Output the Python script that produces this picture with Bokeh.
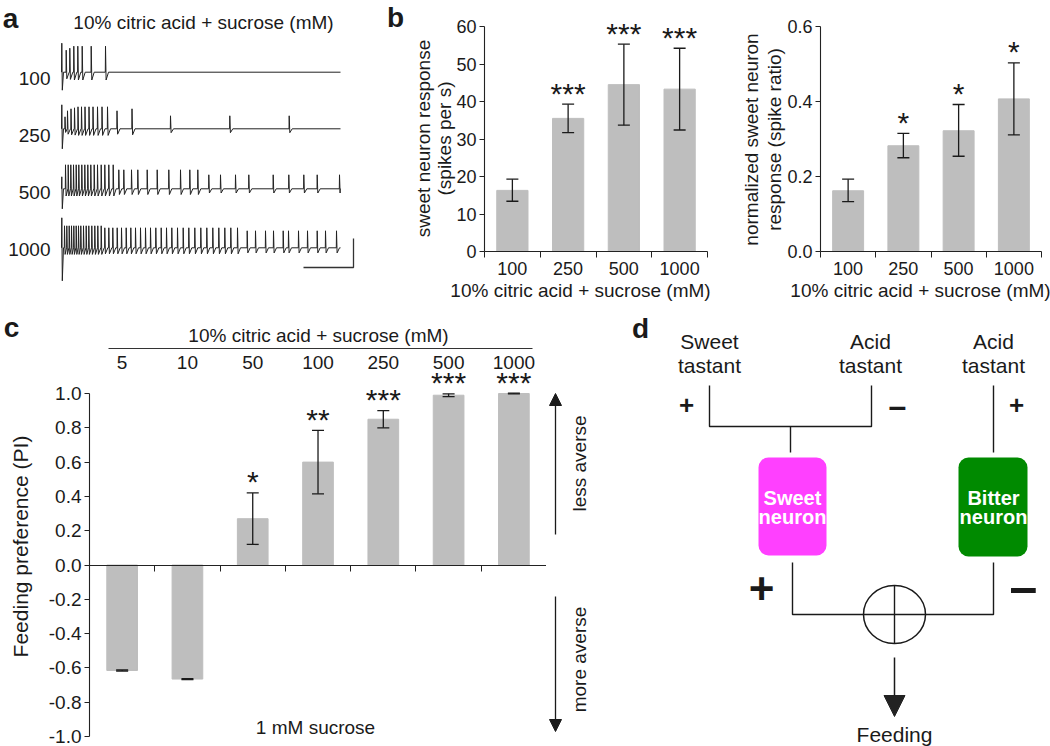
import numpy as np
from bokeh.plotting import figure
from bokeh.layouts import row, column
from bokeh.models import (Range1d, FixedTicker, Whisker, TeeHead, NormalHead, Arrow,
                          ColumnDataSource, PrintfTickFormatter)
from bokeh.core.properties import value
from bokeh.embed import file_html
from bokeh.resources import INLINE

FONT = "Liberation Sans"
BAR = "#bebebe"
INK = "#1a1a1a"

# ---------------- data ----------------
# panel a: spike times (ms) and spike heights read from the recordings
trace_labels = ["100", "250", "500", "1000"]
spikes_100 = [47, 83, 123, 163, 207, 297, 440]
amps_100 = [22, 24, 26, 26, 26, 26, 26]
spikes_250 = [35, 60, 95, 130, 165, 200, 235, 275, 315, 360, 405, 460, 555, 705, 1090, 1683, 2277]
amps_250 = [12, 18, 20, 21, 22, 22, 22, 22, 22, 22, 22, 22, 18, 20, 13, 13, 13]
spikes_500 = [40, 67, 93, 120, 147, 173, 203, 233, 263, 293, 327, 360, 397, 433, 473, 517,
              573, 623, 700, 763, 857, 957, 1073, 1190, 1283, 1363, 1473, 1590, 1740, 1873,
              2117, 2273, 2423, 2557, 2780]
amps_500 = [24] * 16 + [19] * 10 + [14] * 9
spikes_1000 = [30, 53, 77, 100, 123, 147, 170, 193, 220, 247, 273, 303, 333, 363, 397,
               433, 473, 513, 557, 600, 647, 693, 740, 790, 840, 890, 943, 997, 1050, 1103,
               1160, 1217, 1273, 1333, 1393, 1453, 1513, 1573, 1633, 1693, 1760,
               1857, 1940, 2040, 2120, 2217, 2270, 2370, 2460, 2557, 2640, 2750]
amps_1000 = [22] * 15 + [20] * 26 + [17] * 11
artifact_up = [29, 24, 12, 30]
artifact_down = [18, 20, 20, 33]
trace_end_ms = 2790
scalebar_ms = 500

# panel b
b_conc = ["100", "250", "500", "1000"]
b_rate = [16.3, 35.5, 44.5, 43.3]
b_rate_lo = [13.4, 31.7, 33.7, 32.4]
b_rate_hi = [19.3, 39.3, 55.3, 54.2]
b_rate_sig = ["", "***", "***", "***"]
b_ratio = [0.162, 0.282, 0.322, 0.407]
b_ratio_lo = [0.133, 0.250, 0.254, 0.311]
b_ratio_hi = [0.193, 0.315, 0.392, 0.503]
b_ratio_sig = ["", "*", "*", "*"]
b_rate_ticks = [0, 10, 20, 30, 40, 50, 60]
b_ratio_ticks = [0.0, 0.2, 0.4, 0.6]

# panel c
c_conc = ["5", "10", "50", "100", "250", "500", "1000"]
c_pi = [-0.615, -0.665, 0.27, 0.60, 0.85, 0.99, 1.0]
c_pi_lo = [-0.618, -0.668, 0.12, 0.415, 0.80, 0.982, 0.998]
c_pi_hi = [-0.612, -0.662, 0.42, 0.785, 0.90, 0.998, 1.002]
c_sig = ["", "", "*", "**", "***", "***", "***"]
c_ticks = [-1.0, -0.8, -0.6, -0.4, -0.2, 0.0, 0.2, 0.4, 0.6, 0.8, 1.0]

XLAB = "10% citric acid + sucrose (mM)"


class Panel:
    """A full-frame figure covering page box [X0,X1]x[Y0,Y1]; data x=(px-ax)/sx, y=(ay-py)/sy."""

    def __init__(self, X0, X1, Y0, Y1, ax, sx, ay, sy, axes=False):
        self.ax, self.sx, self.ay, self.sy = ax, sx, ay, sy
        kw = {} if axes else dict(x_axis_location=None, y_axis_location=None)
        self.p = figure(width=X1 - X0, height=Y1 - Y0,
                        x_range=Range1d((X0 - ax) / sx, (X1 - ax) / sx),
                        y_range=Range1d((ay - Y1) / sy, (ay - Y0) / sy),
                        min_border=0, toolbar_location=None, output_backend="svg", **kw)
        p = self.p
        p.xgrid.visible = False
        p.ygrid.visible = False
        p.outline_line_color = None
        p.background_fill_color = "white"
        p.border_fill_color = "white"

    def X(self, px):
        return (px - self.ax) / self.sx

    def Y(self, py):
        return (self.ay - py) / self.sy

    def txt(self, px, py, s, size, align="center", baseline="middle", bold=False,
            color=INK, angle=0):
        self.p.text(x=[self.X(px)], y=[self.Y(py)], text=[s], text_font=value(FONT),
                    text_font_size=size, text_align=align, text_baseline=baseline,
                    text_color=color, angle=angle,
                    text_font_style="bold" if bold else "normal")

    def pline(self, pxs, pys, width=1.4, color=INK):
        self.p.line([self.X(v) for v in pxs], [self.Y(v) for v in pys],
                    line_color=color, line_width=width)


def style_axes(p, size):
    for ax in (p.xaxis, p.yaxis):
        ax.major_label_text_font = FONT
        ax.major_label_text_font_size = size
        ax.major_label_text_color = INK
        ax.axis_line_color = "#222222"
        ax.major_tick_line_color = "#222222"
        ax.axis_line_width = 1.1
    p.yaxis.major_tick_out = 5
    p.yaxis.major_tick_in = 0
    p.yaxis.minor_tick_line_color = None
    p.xaxis.major_tick_out = 0
    p.xaxis.major_tick_in = 0
    p.xaxis.minor_tick_out = 6
    p.xaxis.minor_tick_in = 0
    p.xaxis.minor_tick_line_color = "#222222"
    p.xaxis.fixed_location = 0
    p.yaxis.fixed_location = 0


def errs(p, xs, lo, hi):
    src = ColumnDataSource(dict(base=xs, lower=lo, upper=hi))
    p.add_layout(Whisker(source=src, base="base", lower="lower", upper="upper",
                         dimension="height", line_color=INK, line_width=1.3, level="annotation",
                         upper_head=TeeHead(size=12, line_color=INK, line_width=1.3),
                         lower_head=TeeHead(size=12, line_color=INK, line_width=1.3)))


def stars(P, xs, tops, sig):
    lift = 11 / P.sy
    P.p.text(x=xs, y=[t + lift for t in tops], text=sig, text_font=value(FONT),
             text_font_size="30px", text_align="center", text_baseline="alphabetic",
             text_color=INK)


# ---------------- panel a ----------------
# x in ms (page px = 61 + ms/10), y in page px pointing down
A = Panel(0, 365, 0, 310, ax=61, sx=0.1, ay=0, sy=-1)
baselines = [71.7, 128.3, 188.3, 247.3]
label_y = [78, 135, 192, 249]
all_spikes = [spikes_100, spikes_250, spikes_500, spikes_1000]
all_amps = [amps_100, amps_250, amps_500, amps_1000]
for i in range(4):
    b = baselines[i]
    xs = [0, 3, 8, 20]
    ys = [b, b - artifact_up[i], b + artifact_down[i], b]
    sp = all_spikes[i]
    for k, (t, a) in enumerate(zip(sp, all_amps[i])):
        nxt = sp[k + 1] if k + 1 < len(sp) else trace_end_ms
        back = min(t + 30, nxt - 3)
        xs += [t - 2, t, t + 6, back]
        ys += [b, b - a, b + 0.3 * a, b]
    xs.append(trace_end_ms)
    ys.append(b)
    A.p.line(xs, ys, line_color="#222222", line_width=1)
    A.txt(50, label_y[i], trace_labels[i], "19px", align="right")
A.txt(203, 22, XLAB, "19px")
A.txt(10, 18, "a", "28px", bold=True)
sb_end = trace_end_ms + 130
A.p.line([sb_end - scalebar_ms, sb_end, sb_end], [267, 267, 238],
         line_color="#333333", line_width=1.3)

# ---------------- panel b ----------------
xc = [i + 0.5 for i in range(4)]


def bar_panel(P, ticks, bound, fmt, vals, lo, hi, sig):
    p = P.p
    style_axes(p, "18px")
    p.yaxis.ticker = FixedTicker(ticks=ticks)
    p.yaxis.bounds = (0, bound)
    p.yaxis.major_label_standoff = 3
    if fmt:
        p.yaxis.formatter = PrintfTickFormatter(format=fmt)
    p.xaxis.ticker = FixedTicker(ticks=xc, minor_ticks=[0, 1, 2, 3, 4])
    p.xaxis.bounds = (0, 4)
    p.xaxis.major_label_overrides = {x: l for x, l in zip(xc, b_conc)}
    p.xaxis.major_label_standoff = 4
    p.vbar(x=xc, top=vals, width=0.56, color=BAR)
    errs(p, xc, lo, hi)
    stars(P, xc, hi, sig)


B1 = Panel(365, 712, 0, 310, ax=484, sx=55.75, ay=251, sy=3.75, axes=True)
bar_panel(B1, b_rate_ticks, 60, None, b_rate, b_rate_lo, b_rate_hi, b_rate_sig)
B1.txt(423, 138, "sweet neuron response", "19px", angle=np.pi / 2)
B1.txt(444, 138, "(spikes per s)", "19px", angle=np.pi / 2)
B1.txt(580, 290, XLAB, "19px")
B1.txt(395, 17, "b", "28px", bold=True)

B2 = Panel(712, 1050, 0, 310, ax=820, sx=55.25, ay=251, sy=375, axes=True)
bar_panel(B2, b_ratio_ticks, 0.6, "%.1f", b_ratio, b_ratio_lo, b_ratio_hi, b_ratio_sig)
B2.txt(751, 139, "normalized sweet neuron", "19px", angle=np.pi / 2)
B2.txt(774, 139, "response (spike ratio)", "19px", angle=np.pi / 2)
B2.txt(920, 290, XLAB, "19px")

# ---------------- panel c ----------------
C = Panel(0, 546, 310, 746, ax=89, sx=65.29, ay=564.5, sy=171.5, axes=True)
cp = C.p
style_axes(cp, "19px")
cp.yaxis.ticker = FixedTicker(ticks=c_ticks)
cp.yaxis.bounds = (-1, 1)
cp.yaxis.formatter = PrintfTickFormatter(format="%.1f")
cp.yaxis.major_label_standoff = 3
cp.xaxis.ticker = FixedTicker(ticks=[], minor_ticks=list(range(8)))
cp.xaxis.bounds = (0, 7)
cp.xaxis.major_label_text_font_size = "0px"
cxc = [i + 0.5 for i in range(7)]
cp.vbar(x=cxc, top=c_pi, bottom=0, width=0.47, color=BAR)
errs(cp, cxc, c_pi_lo, c_pi_hi)
stars(C, cxc, c_pi_hi, c_sig)
cp.text(x=cxc, y=[C.Y(362)] * 7, text=c_conc, text_font=value(FONT), text_font_size="19px",
        text_align="center", text_baseline="middle", text_color=INK)
C.txt(318, 335, XLAB, "19px")
C.pline([108, 532], [348, 348], width=1, color="#333333")
C.txt(315, 727, "1 mM sucrose", "19px")
C.txt(20, 546, "Feeding preference (PI)", "21px", angle=np.pi / 2)
C.txt(11, 327, "c", "28px", bold=True)

# ---------------- panel d (page px coordinates, y down) ----------------
D = Panel(546, 1050, 310, 746, ax=0, sx=1, ay=0, sy=-1)
dp = D.p
for y0, y1 in [(534, 393), (596, 731)]:
    dp.add_layout(Arrow(x_start=555, y_start=y0, x_end=555, y_end=y1,
                        line_color=INK, line_width=1.3,
                        end=NormalHead(size=12, fill_color=INK, line_color=INK)))
D.txt(579, 463, "less averse", "19px", angle=np.pi / 2)
D.txt(579, 659, "more averse", "19px", angle=np.pi / 2)
D.txt(640, 328, "d", "28px", bold=True)
for x0, l1 in [(709, "Sweet"), (870, "Acid"), (993, "Acid")]:
    D.txt(x0, 341, l1, "21px")
    D.txt(x0, 365, "tastant", "21px")
D.txt(686, 404, "+", "26px", bold=True)
D.txt(897, 405, "\u2013", "32px", bold=True)
D.txt(1016, 404, "+", "26px", bold=True)
D.pline([709, 709, 871, 871], [385, 426, 426, 385])
D.pline([790, 790], [426, 452])
D.pline([993, 993], [385, 452])
qk = dict(left=[758, 958], right=[826, 1027], top=[457, 457], bottom=[555, 556],
          fill_color=["#ff40ff", "#008a00"], line_color=None)
try:
    dp.quad(border_radius=10, **qk)
except Exception:
    dp.quad(**qk)
for x0, l1 in [(792, "Sweet"), (993, "Bitter")]:
    D.txt(x0, 497, l1, "20px", bold=True, color="white")
    D.txt(x0, 516, "neuron", "20px", bold=True, color="white")
D.pline([792, 792, 993, 993], [562, 614, 614, 562])
dp.ellipse(x=[894], y=[614], width=62, height=58, fill_color=None, line_color=INK,
           line_width=1.5)
D.pline([894, 894], [585, 643])
D.txt(761, 588, "+", "44px", bold=True)
D.txt(1023, 586, "\u2013", "50px", bold=True)
dp.add_layout(Arrow(x_start=894, y_start=657, x_end=894, y_end=716, line_color=INK,
                    line_width=1.5,
                    end=NormalHead(size=21, fill_color="#222222", line_color="#222222")))
D.txt(894, 734, "Feeding", "21px")

root = column(row(A.p, B1.p, B2.p, spacing=0), row(C.p, D.p, spacing=0), spacing=0)

with open("out.html", "w") as f:
    f.write(file_html(root, INLINE))
